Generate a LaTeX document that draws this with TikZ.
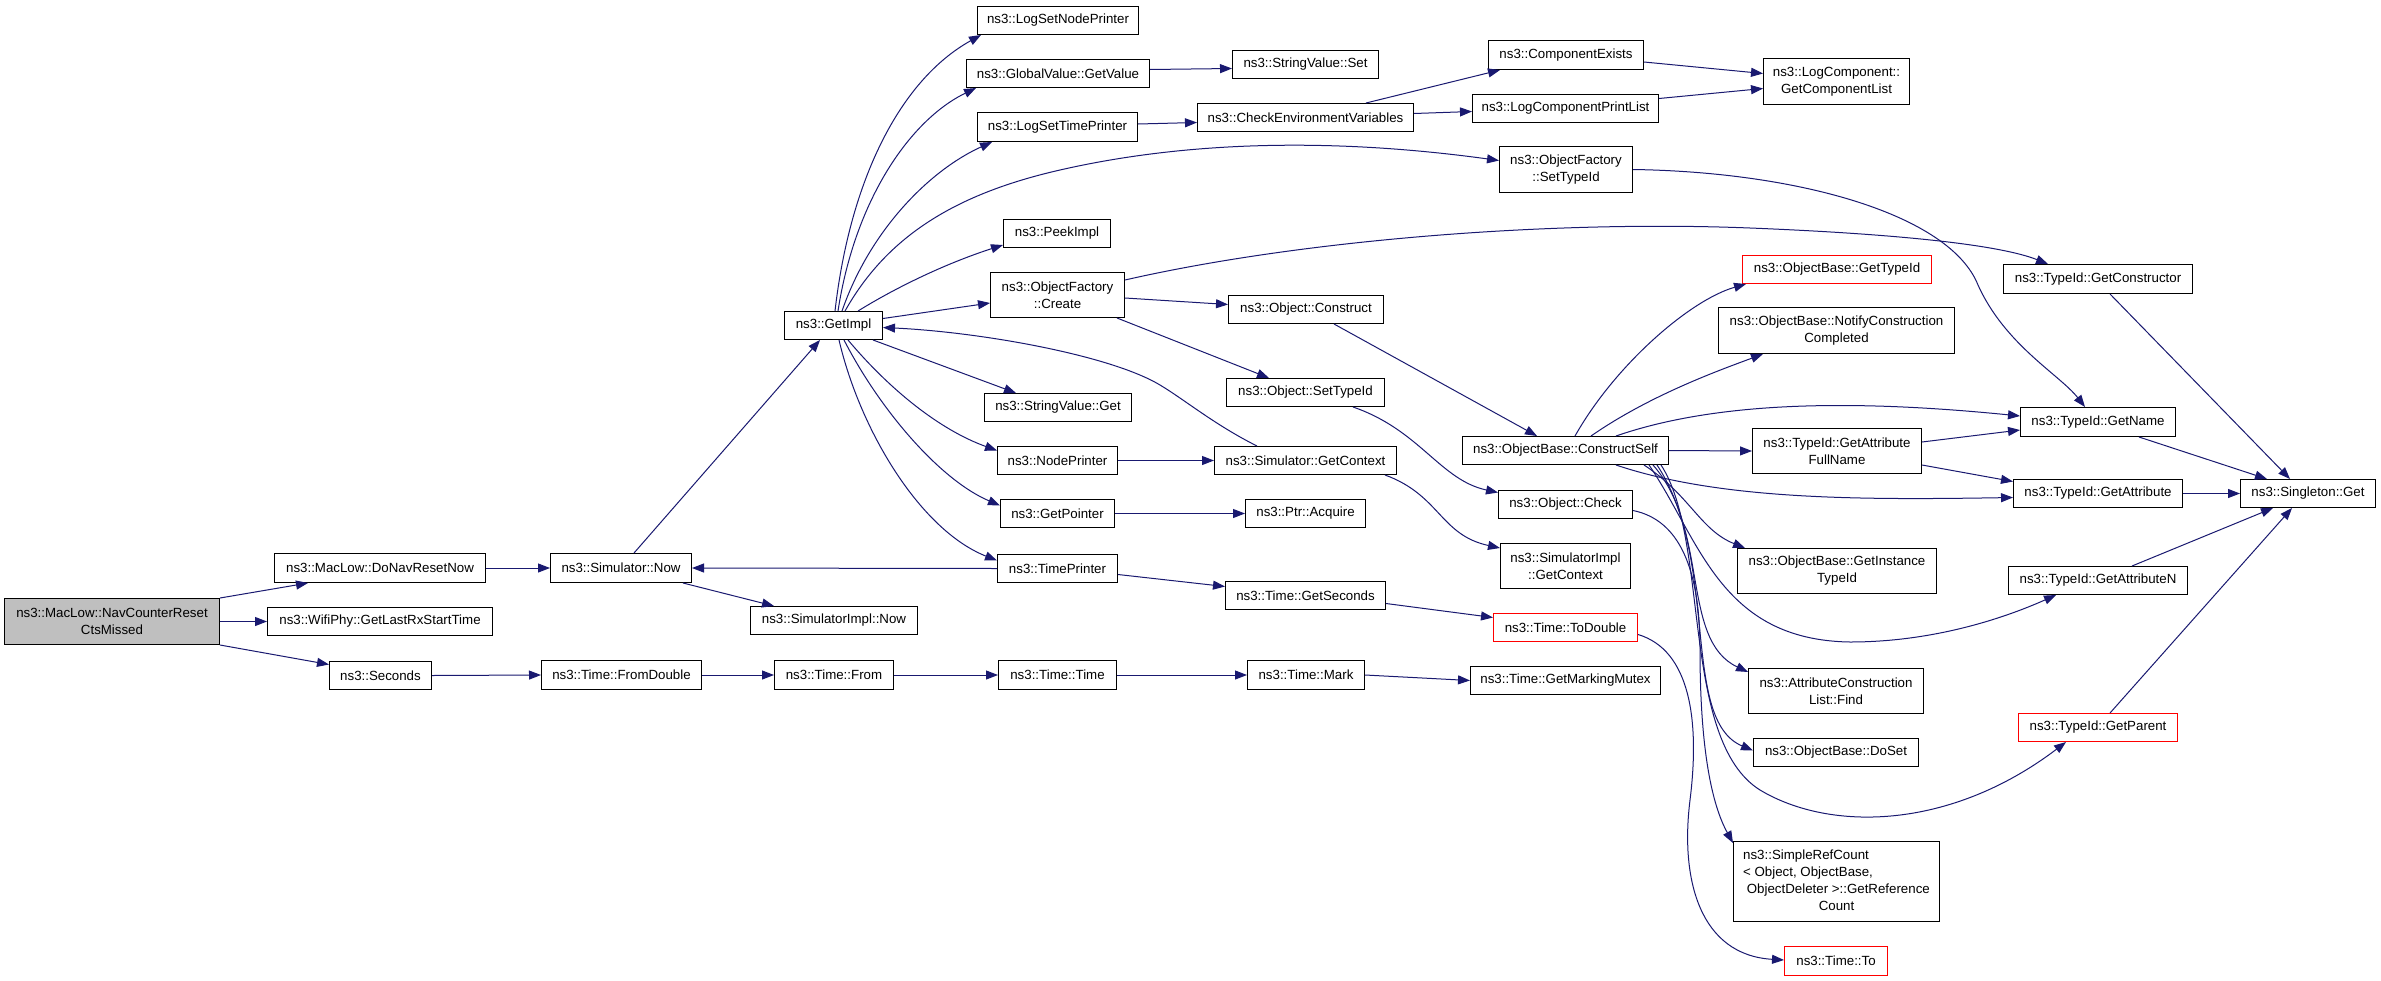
\documentclass[tikz,border=0pt]{standalone}
\usepackage{fontspec}
\setmainfont{Liberation Sans}
\usetikzlibrary{arrows.meta,calc}
\definecolor{edgec}{HTML}{191970}
\definecolor{grayfill}{HTML}{BFBFBF}
\newcommand\nfs{\fontsize{13.3}{17}\selectfont}
\begin{document}
\begin{tikzpicture}[x=1pt,y=-1pt,
  box/.style={draw=black, fill=white, line width=1pt, inner sep=0pt, anchor=north west, font=\nfs, align=center},
  redbox/.style={box, draw=red},
  callarrow/.style={draw=edgec, line width=1pt, -{Triangle[length=12pt,width=9pt]}}]
\path[fill=white] (0,0) rectangle (2381,980);
\useasboundingbox (0,0) rectangle (2381,980);
% nodes
\node[box, fill=grayfill, minimum width=215, minimum height=46] (nav) at (4,598) {ns3::MacLow::NavCounterReset\\CtsMissed};
\node[box, minimum width=211, minimum height=29] (dnr) at (274,553) {ns3::MacLow::DoNavResetNow};
\node[box, minimum width=225, minimum height=28] (glr) at (267,607) {ns3::WifiPhy::GetLastRxStartTime};
\node[box, minimum width=102, minimum height=28] (sec) at (329,661) {ns3::Seconds};
\node[box, minimum width=141, minimum height=29] (snow) at (550,553) {ns3::Simulator::Now};
\node[box, minimum width=167, minimum height=28] (sin) at (750,606) {ns3::SimulatorImpl::Now};
\node[box, minimum width=160, minimum height=29] (fd) at (541,660) {ns3::Time::FromDouble};
\node[box, minimum width=119, minimum height=29] (tf) at (774,660) {ns3::Time::From};
\node[box, minimum width=118, minimum height=29] (tt) at (998,660) {ns3::Time::Time};
\node[box, minimum width=117, minimum height=29] (tm) at (1247,660) {ns3::Time::Mark};
\node[box, minimum width=190, minimum height=28] (gmm) at (1470,666) {ns3::Time::GetMarkingMutex};
\node[box, minimum width=98, minimum height=28] (gi) at (784,311) {ns3::GetImpl};
\node[box, minimum width=161, minimum height=28] (lsnp) at (977,6) {ns3::LogSetNodePrinter};
\node[box, minimum width=183, minimum height=28] (gv) at (966,59) {ns3::GlobalValue::GetValue};
\node[box, minimum width=146, minimum height=28] (svs) at (1232,50) {ns3::StringValue::Set};
\node[box, minimum width=160, minimum height=29] (lstp) at (977,112) {ns3::LogSetTimePrinter};
\node[box, minimum width=216, minimum height=28] (cev) at (1197,103) {ns3::CheckEnvironmentVariables};
\node[box, minimum width=155, minimum height=29] (ce) at (1488,40) {ns3::ComponentExists};
\node[box, minimum width=146, minimum height=46] (gcl) at (1763,58) {ns3::LogComponent::\\GetComponentList};
\node[box, minimum width=186, minimum height=28] (lcpl) at (1472,94) {ns3::LogComponentPrintList};
\node[box, minimum width=133, minimum height=46] (ofst) at (1499,146) {ns3::ObjectFactory\\::SetTypeId};
\node[box, minimum width=107, minimum height=28] (peek) at (1003,219) {ns3::PeekImpl};
\node[box, minimum width=134, minimum height=45] (ofc) at (990,272) {ns3::ObjectFactory\\::Create};
\node[box, minimum width=155, minimum height=28] (oc) at (1228,295) {ns3::Object::Construct};
\node[box, minimum width=158, minimum height=28] (ost) at (1226,378) {ns3::Object::SetTypeId};
\node[box, minimum width=147, minimum height=28] (svg) at (984,393) {ns3::StringValue::Get};
\node[box, minimum width=120, minimum height=28] (np) at (997,446) {ns3::NodePrinter};
\node[box, minimum width=182, minimum height=28] (sgc) at (1214,446) {ns3::Simulator::GetContext};
\node[box, minimum width=114, minimum height=28] (gp) at (1000,499) {ns3::GetPointer};
\node[box, minimum width=120, minimum height=28] (pa) at (1245,499) {ns3::Ptr::Acquire};
\node[box, minimum width=120, minimum height=28] (tp) at (997,554) {ns3::TimePrinter};
\node[box, minimum width=160, minimum height=28] (tgs) at (1225,581) {ns3::Time::GetSeconds};
\node[redbox, minimum width=144, minimum height=28] (ttd) at (1493,613) {ns3::Time::ToDouble};
\node[redbox, minimum width=189, minimum height=28] (obgt) at (1742,255) {ns3::ObjectBase::GetTypeId};
\node[box, minimum width=236, minimum height=46] (onc) at (1718,307) {ns3::ObjectBase::NotifyConstruction\\Completed};
\node[box, minimum width=189, minimum height=29] (gctor) at (2003,264) {ns3::TypeId::GetConstructor};
\node[box, minimum width=155, minimum height=29] (tgn) at (2020,407) {ns3::TypeId::GetName};
\node[box, minimum width=206, minimum height=28] (cs) at (1462,436) {ns3::ObjectBase::ConstructSelf};
\node[box, minimum width=169, minimum height=45] (gafn) at (1752,428) {ns3::TypeId::GetAttribute\\FullName};
\node[box, minimum width=169, minimum height=28] (tga) at (2013,479) {ns3::TypeId::GetAttribute};
\node[box, minimum width=135, minimum height=28] (sg) at (2240,479) {ns3::Singleton::Get};
\node[box, minimum width=134, minimum height=28] (ochk) at (1498,490) {ns3::Object::Check};
\node[box, minimum width=130, minimum height=45] (sigc) at (1500,543) {ns3::SimulatorImpl\\::GetContext};
\node[box, minimum width=199, minimum height=45] (ogit) at (1737,548) {ns3::ObjectBase::GetInstance\\TypeId};
\node[box, minimum width=179, minimum height=28] (tgan) at (2008,566) {ns3::TypeId::GetAttributeN};
\node[box, minimum width=175, minimum height=45] (acl) at (1748,668) {ns3::AttributeConstruction\\List::Find};
\node[redbox, minimum width=159, minimum height=28] (tgp) at (2018,713) {ns3::TypeId::GetParent};
\node[box, minimum width=165, minimum height=28] (ods) at (1753,738) {ns3::ObjectBase::DoSet};
\node[box, minimum width=206, minimum height=80] (src) at (1733,841) {\begin{tabular}{@{}l@{}}ns3::SimpleRefCount\\\textless{} Object, ObjectBase,\\\ ObjectDeleter \textgreater::GetReference\\\multicolumn{1}{@{}c@{}}{Count}\end{tabular}};
\node[redbox, minimum width=103, minimum height=29] (tto) at (1784,946) {ns3::Time::To};
% connectors
\draw[callarrow] (nav.north east) -- ($(dnr.south west)+(34,0)$);
\draw[callarrow] (nav.east) -- (glr.west);
\draw[callarrow] (nav.south east) -- ($(sec.west)+(0,-11)$);
\draw[callarrow] (dnr.east) -- (snow.west);
\draw[callarrow] ($(snow.north west)+(84,0)$) -- ($(gi.south west)+(36,0)$);
\draw[callarrow] ($(snow.south east)+(-9,0)$) -- ($(sin.north west)+(24,0)$);
\draw[callarrow] (tp.west) -- (snow.east);
\draw[callarrow] (sec.east) -- (fd.west);
\draw[callarrow] (fd.east) -- (tf.west);
\draw[callarrow] (tf.east) -- (tt.west);
\draw[callarrow] (tt.east) -- (tm.west);
\draw[callarrow] (tm.east) -- (gmm.west);
\draw[callarrow] ($(gi.north west)+(51,0)$) .. controls (850,180) and (900,80) .. ($(lsnp.south west)+(4,0)$);
\draw[callarrow] ($(gi.north west)+(54,0)$) .. controls (855,200) and (910,120) .. ($(gv.south west)+(10,0)$);
\draw[callarrow] ($(gi.north west)+(58,0)$) .. controls (870,230) and (930,170) .. ($(lstp.south west)+(15,0)$);
\draw[callarrow] ($(gi.north west)+(61,0)$) .. controls (885,240) and (950,195) .. (1060,170) .. controls (1200,138) and (1350,140) .. ($(ofst.west)+(0,-9)$);
\draw[callarrow] ($(gi.north west)+(74,0)$) .. controls (900,285) and (950,262) .. ($(peek.south west)+(0,-3)$);
\draw[callarrow] ($(gi.east)+(0,-7)$) -- ($(ofc.west)+(0,8)$);
\draw[callarrow] ($(sgc.north west)+(43,0)$) .. controls (1215,425) and (1185,400) .. (1160,385) .. controls (1110,355) and (980,332) .. ($(gi.east)+(0,2)$);
\draw[callarrow] ($(gi.south east)+(-10,0)$) -- ($(svg.north west)+(32,0)$);
\draw[callarrow] ($(gi.south west)+(64,0)$) .. controls (890,390) and (940,430) .. ($(np.west)+(0,-10)$);
\draw[callarrow] ($(gi.south west)+(60,0)$) .. controls (880,410) and (940,480) .. ($(gp.west)+(0,-8)$);
\draw[callarrow] ($(gi.south west)+(55,0)$) .. controls (860,430) and (920,530) .. ($(tp.west)+(0,-8)$);
\draw[callarrow] ($(gv.east)+(0,-4)$) -- ($(svs.west)+(0,4)$);
\draw[callarrow] ($(lstp.east)+(0,-3)$) -- ($(cev.west)+(0,5)$);
\draw[callarrow] ($(cev.north east)+(-48,0)$) -- ($(ce.south west)+(12,0)$);
\draw[callarrow] ($(cev.east)+(0,-4)$) -- ($(lcpl.west)+(0,3)$);
\draw[callarrow] ($(ce.east)+(0,7)$) -- ($(gcl.west)+(0,-8)$);
\draw[callarrow] ($(lcpl.east)+(0,-10)$) -- ($(gcl.west)+(0,7)$);
\draw[callarrow] (ofst.east) .. controls (1800,172) and (1950,215) .. (1978,285) .. controls (2005,345) and (2060,375) .. ($(tgn.north west)+(65,0)$);
\draw[callarrow] ($(ofc.north east)+(0,8)$) .. controls (1300,240) and (1550,220) .. (1750,228) .. controls (1900,234) and (2000,245) .. ($(gctor.north west)+(45,0)$);
\draw[callarrow] ($(ofc.east)+(0,3)$) -- ($(oc.west)+(0,-5)$);
\draw[callarrow] ($(ofc.south east)+(-8,0)$) -- ($(ost.north west)+(43,0)$);
\draw[callarrow] ($(oc.south west)+(106,0)$) -- ($(cs.north west)+(75,0)$);
\draw[callarrow] ($(ost.south west)+(127,0)$) .. controls (1420,430) and (1440,480) .. ($(ochk.west)+(0,-12)$);
\draw[callarrow] (np.east) -- (sgc.west);
\draw[callarrow] ($(sgc.south east)+(-12,0)$) .. controls (1440,495) and (1440,535) .. ($(sigc.north west)+(0,5)$);
\draw[callarrow] (gp.east) -- (pa.west);
\draw[callarrow] ($(tp.east)+(0,6)$) -- ($(tgs.west)+(0,-9)$);
\draw[callarrow] ($(tgs.east)+(0,8)$) -- ($(ttd.west)+(0,-10)$);
\draw[callarrow] ($(ttd.east)+(0,7)$) .. controls (1690,650) and (1700,720) .. (1690,800) .. controls (1680,880) and (1700,955) .. ($(tto.west)+(0,-1)$);
\draw[callarrow] ($(cs.north west)+(113,0)$) .. controls (1615,365) and (1690,300) .. ($(obgt.south west)+(4,0)$);
\draw[callarrow] ($(cs.north west)+(129,0)$) .. controls (1650,395) and (1720,370) .. ($(onc.south west)+(45,0)$);
\draw[callarrow] ($(cs.north west)+(154,0)$) .. controls (1720,400) and (1860,400) .. ($(tgn.west)+(0,-6)$);
\draw[callarrow] (cs.east) -- (gafn.west);
\draw[callarrow] ($(cs.south west)+(154,0)$) .. controls (1720,500) and (1860,500) .. ($(tga.west)+(0,4)$);
\draw[callarrow] ($(cs.south east)+(-25,0)$) .. controls (1690,495) and (1700,530) .. ($(ogit.north west)+(8,0)$);
\draw[callarrow] ($(cs.south east)+(-20,0)$) .. controls (1700,540) and (1720,640) .. (1850,642) .. controls (1930,642) and (2000,620) .. ($(tgan.south west)+(48,0)$);
\draw[callarrow] ($(cs.south east)+(-16,0)$) .. controls (1710,530) and (1680,640) .. ($(acl.north west)+(0,4)$);
\draw[callarrow] ($(cs.south east)+(-12,0)$) .. controls (1720,560) and (1680,720) .. ($(ods.west)+(0,-2)$);
\draw[callarrow] ($(cs.south east)+(-8,0)$) .. controls (1710,540) and (1680,740) .. (1760,790) .. controls (1830,832) and (1950,830) .. ($(tgp.south west)+(48,0)$);
\draw[callarrow] ($(ochk.east)+(0,6)$) .. controls (1680,520) and (1700,570) .. (1700,650) .. controls (1700,750) and (1712,805) .. ($(src.north west)+(0,2)$);
\draw[callarrow] ($(gafn.east)+(0,-9)$) -- ($(tgn.west)+(0,8)$);
\draw[callarrow] ($(gafn.east)+(0,14)$) -- ($(tga.west)+(0,-12)$);
\draw[callarrow] ($(tgn.south east)+(-37,0)$) -- ($(sg.north west)+(27,0)$);
\draw[callarrow] (tga.east) -- (sg.west);
\draw[callarrow] ($(tgan.north west)+(124,0)$) -- ($(sg.south west)+(33,0)$);
\draw[callarrow] ($(tgp.north west)+(92,0)$) -- ($(sg.south west)+(52,0)$);
\draw[callarrow] ($(gctor.south west)+(107,0)$) -- ($(sg.north west)+(50,0)$);
\end{tikzpicture}
\end{document}
